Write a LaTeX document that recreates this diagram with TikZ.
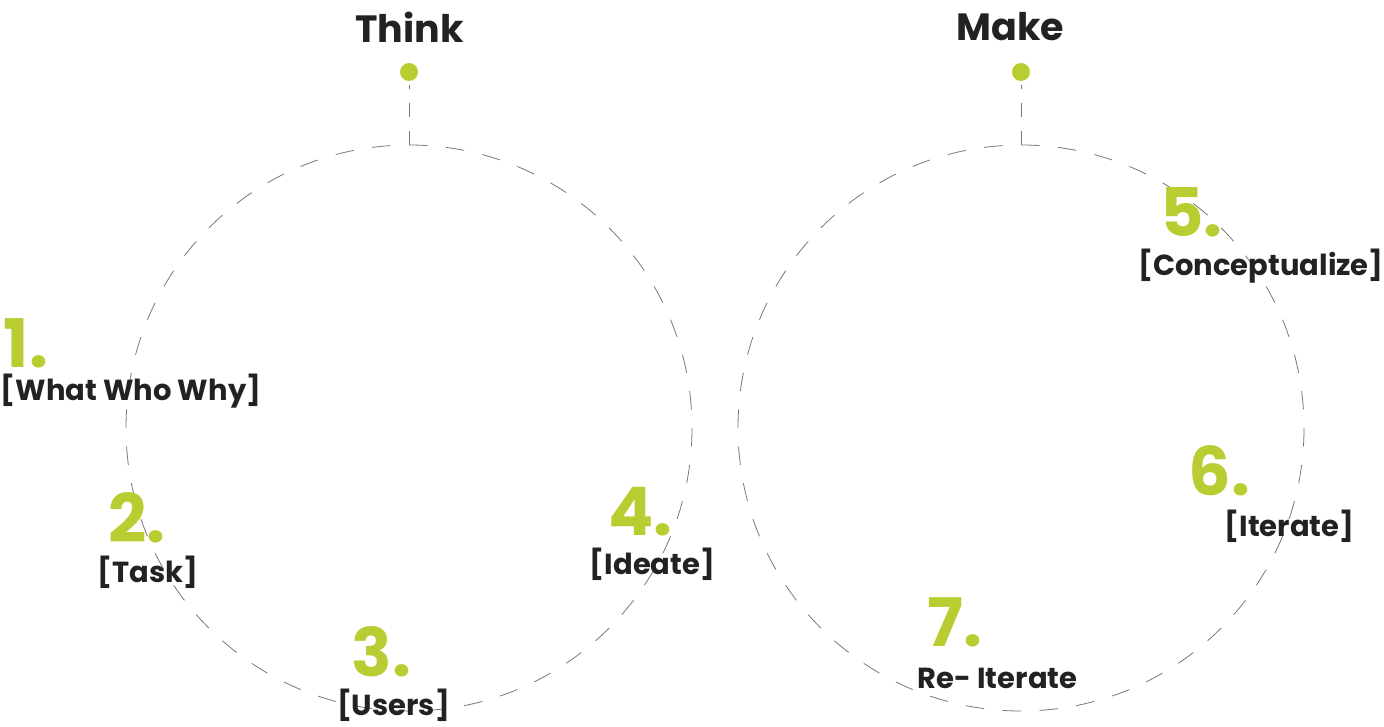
\documentclass[tikz,border=0pt]{standalone}
\usepackage{fontspec}
\setmainfont{Poppins}
\usepackage{tikz}
\definecolor{leaf}{RGB}{185,205,50}
\definecolor{ink}{RGB}{34,34,34}
\definecolor{linegray}{RGB}{120,120,120}

\begin{document}
\begin{tikzpicture}[x=1pt,y=-1pt,
	ring/.style={draw=linegray, line width=0.8pt, dash pattern=on 18.5pt off 18.55pt},
	stem/.style={draw=linegray, line width=0.8pt, dash pattern=on 14pt off 14pt},
	dot/.style={circle, fill=leaf, minimum size=18pt, inner sep=0pt},
	title/.style={text=ink, inner sep=0pt, font=\fontsize{38}{38}\selectfont\bfseries},
	num/.style={text=leaf, inner sep=0pt, font=\fontsize{67}{67}\selectfont\bfseries},
	tag/.style={text=ink, inner sep=0pt, font=\fontsize{29}{29}\selectfont\bfseries}]
				\useasboundingbox (0,0) rectangle (1384,727);
				% the two loops
				\coordinate (thinktop) at (409,145);
				\coordinate (maketop) at (1021,145);
				\draw[ring] (thinktop) arc [start angle=-90, delta angle=360, radius=283];
				\draw[ring] (maketop) arc [start angle=-90, delta angle=360, radius=283];
				% headings
				\node[title] (think) at (409.5,27) {Think};
				\node[title] (make) at (1010.5,27) {Make};
				\node[dot] (thinkdot) at (409,72) {};
				\node[dot] (makedot) at (1021,72) {};
				\draw[stem, shorten >=4pt] (thinktop) -- (thinkdot);
				\draw[stem, shorten >=4pt] (maketop) -- (makedot);
				% steps
				\node[num] (n1) at (26,343) {1.};
				\node[tag] (t1) at (131,391) {[What Who Why]};
				\node[num] (n2) at (137,517.5) {2.};
				\node[tag] (t2) at (148,572) {[Task]};
				\node[num] (n3) at (381.5,651.5) {3.};
				\node[tag] (t3) at (393.5,705) {[Users]};
				\node[num] (n4) at (640.5,511.5) {4.};
				\node[tag] (t4) at (652.5,564) {[Ideate]};
				\node[num] (n5) at (1191.5,212.5) {5.};
				\node[tag] (t5) at (1261,266.5) {[Conceptualize]};
				\node[num] (n6) at (1219.5,471) {6.};
				\node[tag] (t6) at (1289.5,526) {[Iterate]};
				\node[num] (n7) at (955,622.5) {7.};
				\node[tag] (t7) at (997.5,678) {Re- Iterate};
			\end{tikzpicture}
\end{document}
